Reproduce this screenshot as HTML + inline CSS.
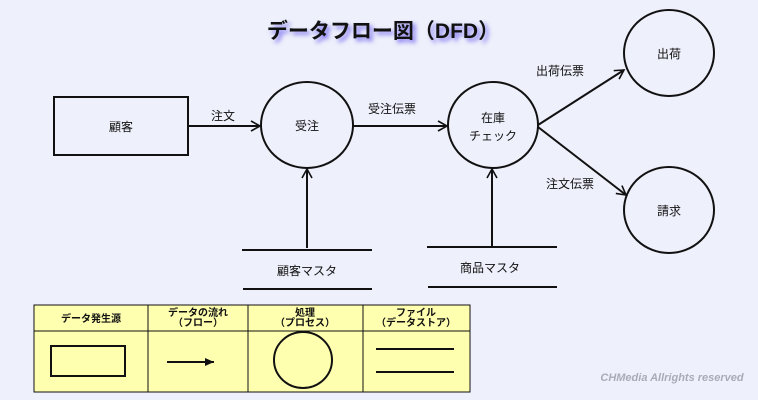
<!DOCTYPE html>
<html><head><meta charset="utf-8"><style>
html,body{margin:0;padding:0;background:#eef0fb;}
svg{display:block}
text{font-family:"Liberation Sans","Noto Sans CJK JP",sans-serif;fill:#111;}
</style></head><body>
<svg width="758" height="400" viewBox="0 0 758 400" xmlns="http://www.w3.org/2000/svg">
<defs>
<marker id="a" markerWidth="12" markerHeight="12" refX="10" refY="6" orient="auto" markerUnits="userSpaceOnUse">
<path d="M1,1 L10,6 L1,11" fill="none" stroke="#111" stroke-width="1.6"/></marker>
<marker id="b" markerWidth="10" markerHeight="10" refX="9" refY="5" orient="auto" markerUnits="userSpaceOnUse">
<path d="M0,1 L9,5 L0,9 Z" fill="#111"/></marker>
<filter id="sh"><feGaussianBlur stdDeviation="2.5"/></filter>
</defs>
<rect width="758" height="400" fill="#eef0fb"/>
<text x="386" y="41" font-size="21" font-weight="bold" text-anchor="middle" fill="#7a6ff0" filter="url(#sh)" style="fill:#7a6ff0">データフロー図（DFD）</text>
<text x="383" y="38" font-size="21" font-weight="bold" text-anchor="middle">データフロー図（DFD）</text>

<g stroke="#111" stroke-width="2" fill="none">
<rect x="54" y="97" width="134" height="58"/>
<ellipse cx="307" cy="125" rx="46" ry="43"/>
<ellipse cx="493" cy="125" rx="45" ry="43"/>
<ellipse cx="669" cy="53" rx="45" ry="43"/>
<ellipse cx="669" cy="210" rx="45" ry="43"/>
<line x1="188" y1="126" x2="260" y2="126" marker-end="url(#a)"/>
<line x1="353" y1="126" x2="447" y2="126" marker-end="url(#a)"/>
<line x1="538" y1="125" x2="624" y2="70" marker-end="url(#a)"/>
<line x1="538" y1="127" x2="626" y2="195" marker-end="url(#a)"/>
<line x1="307" y1="248" x2="307" y2="169" marker-end="url(#a)"/>
<line x1="492" y1="246" x2="492" y2="169" marker-end="url(#a)"/>
<line x1="242" y1="250" x2="372" y2="250"/>
<line x1="243" y1="289" x2="372" y2="289"/>
<line x1="427" y1="247" x2="557" y2="247"/>
<line x1="428" y1="287" x2="557" y2="287"/>
</g>
<g font-size="12" text-anchor="middle">
<text x="121" y="131">顧客</text>
<text x="223" y="120">注文</text>
<text x="307" y="130">受注</text>
<text x="392" y="113">受注伝票</text>
<text x="493" y="122">在庫</text>
<text x="493" y="140">チェック</text>
<text x="669" y="58">出荷</text>
<text x="669" y="215">請求</text>
<text x="560" y="75">出荷伝票</text>
<text x="570" y="188">注文伝票</text>
<text x="307" y="275">顧客マスタ</text>
<text x="490" y="272">商品マスタ</text>
</g>

<g stroke="#111" stroke-width="1">
<rect x="34" y="305" width="436" height="87" fill="#ffffb0"/>
<line x1="34" y1="331" x2="470" y2="331"/>
<line x1="148" y1="305" x2="148" y2="392"/>
<line x1="248" y1="305" x2="248" y2="392"/>
<line x1="363" y1="305" x2="363" y2="392"/>
</g>
<g font-size="10" font-weight="bold" text-anchor="middle">
<text x="91" y="322">データ発生源</text>
<text x="198" y="316">データの流れ</text>
<text x="198" y="326">（フロー）</text>
<text x="305" y="316">処理</text>
<text x="305" y="326">（プロセス）</text>
<text x="416" y="316">ファイル</text>
<text x="416" y="326">（データストア）</text>
</g>
<g stroke="#111" stroke-width="2" fill="none">
<rect x="51" y="346" width="74" height="30"/>
<line x1="167" y1="362" x2="214" y2="362" marker-end="url(#b)"/>
<ellipse cx="303" cy="360" rx="29" ry="28"/>
<line x1="376" y1="349" x2="454" y2="349"/>
<line x1="376" y1="372" x2="454" y2="372"/>
</g>
<text x="672" y="381" font-size="11" font-style="italic" font-weight="bold" text-anchor="middle" style="fill:#a9acb8">CHMedia Allrights reserved</text>
</svg>
</body></html>
